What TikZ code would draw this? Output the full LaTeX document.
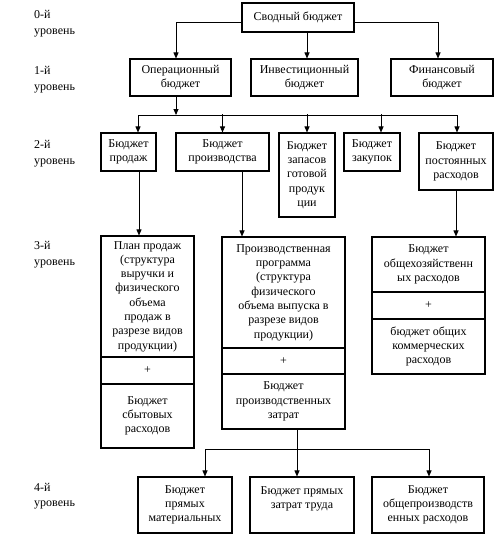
\documentclass[tikz,border=0pt]{standalone}
\usepackage{fontspec}
\setmainfont{Liberation Serif}
\usetikzlibrary{arrows.meta}
\begin{document}
\begin{tikzpicture}[x=1pt,y=-1pt,
  box/.style={draw, line width=1.1pt, align=center, inner sep=0pt, font=\fontsize{12}{14.3}\selectfont},
  arr/.style={line width=0.9pt, -{Triangle[width=5pt,length=6pt]}},
  ln/.style={line width=0.9pt},
  lvl/.style={anchor=west, align=left, inner sep=0pt, font=\fontsize{12}{15.5}\selectfont}]
\useasboundingbox[fill=white] (0,0) rectangle (497,552);

% level labels
\node[lvl] (l0) at (34,23.5) {0-й\\уровень};
\node[lvl] (l1) at (34,79.5) {1-й\\уровень};
\node[lvl] (l2) at (34,153.5) {2-й\\уровень};
\node[lvl] (l3) at (34,254.5) {3-й\\уровень};
\node[lvl] (l4) at (34,496) {4-й\\уровень};

% level 0
\node[box, minimum width=112, minimum height=29] (top) at (298,17.5) {Сводный бюджет};
% level 1
\node[box, minimum width=101, minimum height=37] (op) at (180.5,77.5) {Операционный\\бюджет};
\node[box, minimum width=107, minimum height=37] (inv) at (304.5,77.5) {Инвестиционный\\бюджет};
\node[box, minimum width=102, minimum height=37] (fin) at (442,77.5) {Финансовый\\бюджет};
% level 2
\node[box, minimum width=55, minimum height=38] (sales) at (128.5,152) {Бюджет\\продаж};
\node[box, minimum width=93, minimum height=38] (prod) at (222.5,152) {Бюджет\\производства};
\node[box, minimum width=56, minimum height=84] (stock) at (307,175) {Бюджет\\запасов\\готовой\\продук\\ции};
\node[box, minimum width=56, minimum height=38] (purch) at (372,152) {Бюджет\\закупок};
\node[box, minimum width=74, minimum height=57] (fixed) at (456,161.5) {Бюджет\\постоянных\\расходов};
% level 3
\node[box, minimum width=93, minimum height=121] (planA) at (147.5,296.5) {План продаж\\(структура\\выручки и\\физического\\объема\\продаж в\\разрезе видов\\продукции)};
\node[box, minimum width=93, minimum height=27] (planB) at (147.5,370.5) {+};
\node[box, minimum width=93, minimum height=64] (planC) at (147.5,416) {Бюджет\\сбытовых\\расходов};
\node[box, minimum width=123, minimum height=111] (ppA) at (283.5,292.5) {Производственная\\программа\\(структура\\физического\\объема выпуска в\\разрезе видов\\продукции)};
\node[box, minimum width=123, minimum height=26] (ppB) at (283.5,361) {+};
\node[box, minimum width=123, minimum height=55] (ppC) at (283.5,401.5) {Бюджет\\производственных\\затрат};
\node[box, minimum width=113, minimum height=55] (ohA) at (428.5,264.5) {Бюджет\\общехозяйственн\\ых расходов};
\node[box, minimum width=113, minimum height=27] (ohB) at (428.5,305.5) {+};
\node[box, minimum width=113, minimum height=55] (ohC) at (428.5,346.5) {бюджет общих\\коммерческих\\расходов};
% level 4
\node[box, minimum width=94, minimum height=56] (m1) at (185,505) {Бюджет\\прямых\\материальных};
\node[box, minimum width=104, minimum height=56] (m2) at (302,505) {Бюджет прямых\\затрат труда\\\mbox{}};
\node[box, minimum width=112, minimum height=56] (m3) at (428,505) {Бюджет\\общепроизводств\\енных расходов};

% connectors level 0 -> 1
\draw[arr] ([yshift=-4.5]top.west) -| ([xshift=-4.5]op.north);
\draw[arr] ([xshift=9]top.south) -- ([xshift=2.5]inv.north);
\draw[arr] ([yshift=-4.5]top.east) -| ([xshift=-4]fin.north);

% level 1 -> 2
\coordinate (bus1) at (176,115);
\coordinate (bus1L) at (138,115);
\coordinate (bus1R) at (457,115);
\draw[arr] ([xshift=-4.5]op.south) -- (bus1);
\draw[ln] (bus1L) -- (bus1R);
\draw[arr] (bus1L) -- ([xshift=9.5]sales.north);
\draw[arr] ([yshift=18]prod.north) -- (prod.north);
\draw[arr] ([yshift=18]stock.north) -- (stock.north);
\draw[arr] ([xshift=9,yshift=18]purch.north) -- ([xshift=9]purch.north);
\draw[arr] (bus1R) -- ([xshift=1]fixed.north);

% level 2 -> 3
\draw[arr] ([xshift=10.5]sales.south) -- ([xshift=-8.5]planA.north);
\draw[arr] ([xshift=19.5]prod.south) -- ([xshift=-41.5]ppA.north);
\draw[arr] (fixed.south) -- ([xshift=27.5]ohA.north);

% level 3 -> 4
\coordinate (bus4) at (297,449);
\draw[ln] ([xshift=13.5]ppC.south) -- (bus4);
\draw[arr] (bus4) -| ([xshift=20]m1.north);
\draw[arr] (bus4) -- ([xshift=-5]m2.north);
\draw[arr] (bus4) -| ([xshift=1]m3.north);
\end{tikzpicture}
\end{document}
